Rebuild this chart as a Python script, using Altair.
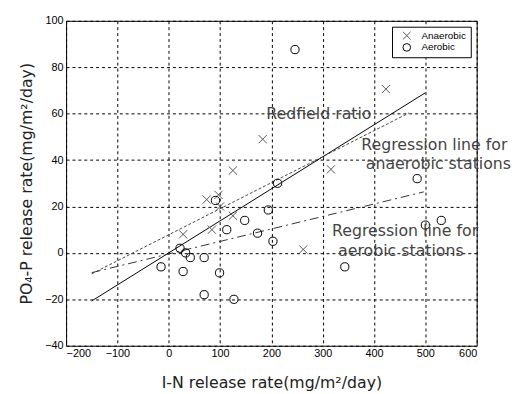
import altair as alt
import pandas as pd

# ---- data ----
anaer_x = [28, 74, 84, 97, 100, 125, 125, 183, 262, 316, 423]
anaer_y = [8, 23, 10, 25, 20, 16, 35.5, 49, 1.5, 36, 70.6]

aer_x = [-15, 22, 28, 33, 42, 69, 69, 91, 99, 113, 127, 148, 173, 194, 203, 212, 246, 343, 484, 500, 531]
aer_y = [-6, 2, -8, 0, -2, -2, -18, 22.6, -8.6, 10, -20, 14, 8.5, 18.5, 5, 30, 87.6, -6, 32, 12, 14]

redfield_x = [-150, 500]
redfield_y = [-20.7, 69.0]
anaer_reg_x = [-150, 468]
anaer_reg_y = [-9, 60.3]
aer_reg_x = [-150, 497]
aer_reg_y = [-8.5, 26.3]

label_x = [190, 375, 384, 318, 330]
label_y = [60, 46.4, 38.4, 9.3, 0.9]
label_text = ["Redfield ratio", "Regression line for", "anaerobic stations",
              "Regression line for", "aerobic stations"]

x_ticks = list(range(-200, 601, 100))
y_ticks = list(range(-40, 101, 20))

# ---- tables ----
pts = pd.DataFrame({
    "x": anaer_x + aer_x,
    "y": anaer_y + aer_y,
    "type": ["Anaerobic"] * len(anaer_x) + ["Aerobic"] * len(aer_x),
})
red_df = pd.DataFrame({"x": redfield_x, "y": redfield_y})
an_df = pd.DataFrame({"x": anaer_reg_x, "y": anaer_reg_y})
ae_df = pd.DataFrame({"x": aer_reg_x, "y": aer_reg_y})
lab_df = pd.DataFrame({"x": label_x, "y": label_y, "text": label_text})

xs = alt.Scale(domain=[-200, 600], nice=False, zero=False)
ys = alt.Scale(domain=[-40, 100], nice=False, zero=False)

X = alt.X("x:Q", scale=xs, axis=alt.Axis(values=x_ticks, title="I-N release rate(mg/m²/day)"))
Y = alt.Y("y:Q", scale=ys, axis=alt.Axis(values=y_ticks, title="PO₄-P release rate(mg/m²/day)"))

xpath = "M-1,-1L1,1M-1,1L1,-1"

points = alt.Chart(pts).mark_point(filled=False, strokeWidth=1, size=70, opacity=1).encode(
    x=X, y=Y,
    shape=alt.Shape("type:N", scale=alt.Scale(domain=["Anaerobic", "Aerobic"], range=[xpath, "circle"]),
                    legend=alt.Legend(title=None)),
    color=alt.Color("type:N", scale=alt.Scale(domain=["Anaerobic", "Aerobic"], range=["#555555", "#000000"]),
                    legend=alt.Legend(title=None)),
)

red = alt.Chart(red_df).mark_line(color="black", strokeWidth=1).encode(x=X, y=Y)
an = alt.Chart(an_df).mark_line(color="#444444", strokeWidth=1, strokeDash=[3, 2]).encode(x=X, y=Y)
ae = alt.Chart(ae_df).mark_line(color="#333333", strokeWidth=1, strokeDash=[9, 4, 2, 4]).encode(x=X, y=Y)

labels = alt.Chart(lab_df).mark_text(align="left", baseline="middle", fontSize=16,
                                     font="DejaVu Sans", color="#444444").encode(
    x=X, y=Y, text="text:N")

chart = alt.layer(red, an, ae, points, labels).properties(
    width=417, height=330,
    autosize="none",
    padding={"left": 59, "top": 10, "right": 45, "bottom": 46},
).configure_view(
    stroke="black", strokeWidth=1
).configure_axis(
    grid=True, gridColor="black", gridDash=[3, 3], gridWidth=1, gridOpacity=1,
    domain=False, ticks=False,
    labelFont="Liberation Sans", labelFontSize=11, labelColor="black", labelPadding=3,
    titleFont="DejaVu Sans", titleFontSize=16, titleFontWeight="normal", titleColor="#222222",
).configure_axisX(labelPadding=2, titlePadding=16).configure_axisY(titlePadding=10).configure_legend(
    orient="top-right", offset=6, padding=4, strokeColor="black", fillColor="white",
    labelFont="Liberation Sans", labelFontSize=10, labelColor="black",
    symbolSize=60, symbolStrokeWidth=1, rowPadding=0, symbolOffset=6, labelOffset=10,
    cornerRadius=0,
)

chart.save("out.html", embed_options={"renderer": "svg", "actions": False})
